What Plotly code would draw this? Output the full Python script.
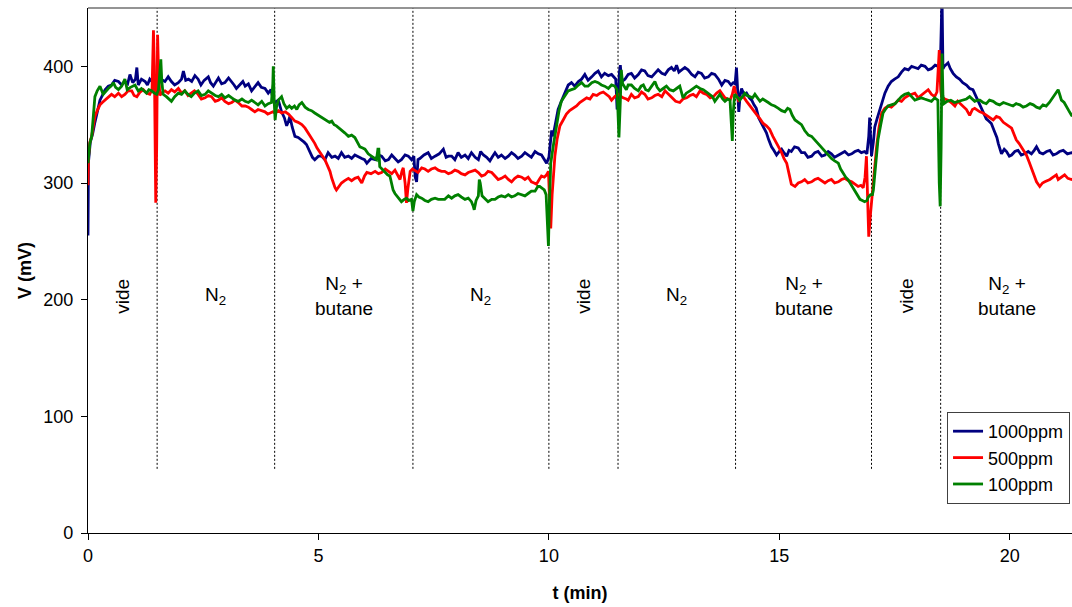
import plotly.graph_objects as go

# ---------------- data ----------------
series_names = ["1000ppm", "500ppm", "100ppm"]
series_colors = ["#000080", "#FF0000", "#008000"]

t_1000 = [0.00, 0.01, 0.05, 0.10, 0.15, 0.19, 0.23, 0.26, 0.31, 0.37,
          0.44, 0.51, 0.58, 0.66, 0.73, 0.80, 0.86, 0.91, 0.97, 1.03,
          1.06, 1.09, 1.16, 1.24, 1.29, 1.34, 1.41, 1.49, 1.53, 1.58,
          1.67, 1.74, 1.81, 1.88, 1.96, 2.03, 2.07, 2.12, 2.18, 2.25,
          2.32, 2.39, 2.45, 2.52, 2.61, 2.66, 2.72, 2.78, 2.83, 2.90,
          2.97, 3.05, 3.12, 3.17, 3.22, 3.30, 3.36, 3.41, 3.48, 3.55,
          3.62, 3.69, 3.76, 3.84, 3.91, 3.97, 4.02, 4.06, 4.13, 4.17,
          4.20, 4.26, 4.31, 4.35, 4.38, 4.43, 4.49, 4.56, 4.64, 4.69,
          4.74, 4.78, 4.82, 4.87, 4.92, 5.00, 5.07, 5.14, 5.21, 5.29,
          5.36, 5.43, 5.50, 5.57, 5.65, 5.72, 5.79, 5.87, 5.94, 6.00,
          6.05, 6.14, 6.23, 6.30, 6.37, 6.45, 6.52, 6.59, 6.66, 6.73,
          6.80, 6.88, 6.95, 7.02, 7.07, 7.10, 7.13, 7.16, 7.20, 7.29,
          7.38, 7.45, 7.53, 7.62, 7.71, 7.77, 7.82, 7.89, 7.96, 8.03,
          8.10, 8.18, 8.25, 8.32, 8.40, 8.47, 8.52, 8.58, 8.65, 8.72,
          8.78, 8.83, 8.90, 8.97, 9.05, 9.12, 9.19, 9.26, 9.33, 9.41,
          9.48, 9.55, 9.62, 9.70, 9.77, 9.84, 9.90, 9.95, 10.00, 10.02,
          10.06, 10.09, 10.14, 10.20, 10.27, 10.35, 10.42, 10.49, 10.56, 10.64,
          10.71, 10.78, 10.85, 10.93, 11.00, 11.07, 11.14, 11.21, 11.29, 11.36,
          11.42, 11.45, 11.48, 11.50, 11.53, 11.55, 11.58, 11.65, 11.72, 11.79,
          11.86, 11.94, 12.01, 12.08, 12.15, 12.23, 12.30, 12.37, 12.45, 12.52,
          12.59, 12.66, 12.72, 12.77, 12.82, 12.88, 12.95, 13.02, 13.10, 13.17,
          13.24, 13.31, 13.38, 13.46, 13.53, 13.60, 13.68, 13.75, 13.82, 13.89,
          13.95, 14.00, 14.04, 14.07, 14.10, 14.12, 14.15, 14.18, 14.24, 14.29,
          14.35, 14.40, 14.45, 14.50, 14.55, 14.61, 14.66, 14.72, 14.77, 14.83,
          14.88, 14.94, 15.00, 15.05, 15.10, 15.16, 15.21, 15.26, 15.33, 15.41,
          15.48, 15.55, 15.62, 15.70, 15.77, 15.84, 15.92, 15.99, 16.06, 16.13,
          16.20, 16.28, 16.35, 16.42, 16.50, 16.57, 16.64, 16.71, 16.78, 16.85,
          16.90, 16.94, 16.96, 16.98, 17.00, 17.04, 17.07, 17.12, 17.18, 17.24,
          17.29, 17.36, 17.43, 17.50, 17.58, 17.65, 17.72, 17.80, 17.87, 17.94,
          18.01, 18.08, 18.16, 18.23, 18.30, 18.38, 18.45, 18.49, 18.51, 18.53,
          18.55, 18.58, 18.66, 18.71, 18.77, 18.84, 18.91, 18.98, 19.06, 19.13,
          19.20, 19.26, 19.31, 19.39, 19.44, 19.49, 19.55, 19.60, 19.67, 19.72,
          19.75, 19.82, 19.88, 19.93, 19.99, 20.04, 20.11, 20.18, 20.25, 20.32,
          20.40, 20.47, 20.53, 20.58, 20.65, 20.72, 20.80, 20.87, 20.94, 21.01,
          21.08, 21.16, 21.25, 21.34, 21.40]
v_1000 = [255, 318, 335, 342, 352, 359, 366, 371, 375, 380,
          383, 384, 388, 387, 384, 387, 385, 393, 386, 389,
          399, 384, 389, 387, 384, 389, 386, 390, 385, 389,
          387, 391, 387, 384, 386, 389, 396, 388, 389, 387,
          392, 389, 384, 388, 391, 386, 383, 387, 390, 385,
          386, 390, 387, 384, 381, 385, 387, 383, 385, 379,
          383, 386, 382, 381, 377, 380, 371, 369, 371, 366,
          361, 356, 349, 353, 357, 348, 340, 339, 337, 335,
          333, 330, 326, 322, 320, 323, 323, 320, 326, 322,
          323, 321, 326, 322, 323, 321, 324, 322, 321, 320,
          317, 321, 320, 324, 323, 319, 320, 324, 321, 318,
          320, 324, 323, 320, 323, 305, 301, 320, 321, 324,
          326, 321, 323, 325, 329, 322, 323, 323, 320, 326,
          322, 324, 321, 326, 322, 320, 327, 324, 322, 319,
          323, 326, 322, 324, 321, 323, 326, 324, 321, 323,
          326, 324, 322, 327, 325, 324, 320, 317, 322, 331,
          345, 340, 352, 363, 370, 377, 384, 386, 383, 387,
          389, 393, 388, 391, 394, 396, 391, 394, 392, 393,
          390, 389, 363, 368, 395, 401, 387, 389, 393, 394,
          390, 393, 397, 396, 392, 391, 394, 397, 394, 393,
          397, 399, 396, 401, 395, 397, 399, 397, 393, 391,
          395, 394, 390, 391, 394, 393, 389, 384, 388, 387,
          384, 386, 385, 399, 380, 361, 375, 381, 375, 377,
          373, 371, 367, 364, 356, 351, 348, 343, 337, 331,
          328, 324, 327, 329, 326, 323, 328, 327, 331, 330,
          326, 326, 322, 323, 326, 327, 323, 324, 327, 325,
          322, 324, 326, 327, 324, 325, 327, 328, 326, 327,
          325, 340, 356, 330, 323, 335, 348, 355, 363, 371,
          377, 383, 387, 389, 391, 395, 398, 397, 400, 399,
          398, 401, 400, 397, 398, 401, 400, 396, 450, 460,
          398, 400, 403, 398, 394, 391, 389, 386, 384, 381,
          380, 375, 371, 363, 359, 355, 353, 351, 344, 339,
          334, 325, 329, 327, 323, 324, 327, 328, 324, 325,
          327, 325, 328, 331, 326, 325, 327, 328, 324, 325,
          327, 328, 325, 326, 325]

t_500 = [0.00, 0.01, 0.04, 0.08, 0.12, 0.15, 0.20, 0.26, 0.31, 0.37,
         0.44, 0.51, 0.58, 0.66, 0.73, 0.80, 0.87, 0.95, 1.00, 1.06,
         1.13, 1.20, 1.27, 1.34, 1.39, 1.42, 1.44, 1.47, 1.49, 1.51,
         1.53, 1.56, 1.62, 1.67, 1.74, 1.81, 1.88, 1.96, 2.03, 2.10,
         2.17, 2.24, 2.31, 2.39, 2.46, 2.54, 2.61, 2.68, 2.76, 2.83,
         2.90, 2.97, 3.05, 3.12, 3.19, 3.26, 3.34, 3.41, 3.48, 3.55,
         3.62, 3.69, 3.77, 3.84, 3.90, 3.95, 4.01, 4.06, 4.13, 4.20,
         4.28, 4.35, 4.42, 4.49, 4.56, 4.64, 4.71, 4.78, 4.85, 4.92,
         4.97, 5.03, 5.09, 5.14, 5.20, 5.25, 5.29, 5.32, 5.36, 5.39,
         5.45, 5.50, 5.57, 5.65, 5.72, 5.79, 5.86, 5.94, 6.00, 6.05,
         6.14, 6.23, 6.30, 6.37, 6.45, 6.52, 6.59, 6.66, 6.72, 6.77,
         6.81, 6.84, 6.88, 6.91, 6.94, 6.99, 7.04, 7.09, 7.16, 7.24,
         7.31, 7.38, 7.45, 7.53, 7.60, 7.67, 7.74, 7.82, 7.89, 7.96,
         8.03, 8.10, 8.18, 8.25, 8.32, 8.40, 8.47, 8.54, 8.61, 8.68,
         8.76, 8.83, 8.90, 8.97, 9.05, 9.12, 9.19, 9.26, 9.33, 9.41,
         9.48, 9.55, 9.62, 9.68, 9.73, 9.79, 9.84, 9.90, 9.95, 9.99,
         10.02, 10.04, 10.07, 10.10, 10.13, 10.18, 10.24, 10.31, 10.38, 10.45,
         10.53, 10.60, 10.67, 10.75, 10.82, 10.89, 10.96, 11.04, 11.11, 11.18,
         11.25, 11.31, 11.36, 11.43, 11.50, 11.56, 11.61, 11.68, 11.72, 11.79,
         11.86, 11.94, 12.01, 12.08, 12.15, 12.23, 12.30, 12.37, 12.45, 12.52,
         12.59, 12.66, 12.75, 12.84, 12.91, 12.99, 13.06, 13.13, 13.20, 13.28,
         13.35, 13.42, 13.50, 13.57, 13.64, 13.71, 13.77, 13.82, 13.88, 13.93,
         13.98, 14.02, 14.06, 14.11, 14.16, 14.22, 14.29, 14.36, 14.43, 14.50,
         14.58, 14.65, 14.72, 14.79, 14.86, 14.94, 15.00, 15.05, 15.10, 15.16,
         15.21, 15.26, 15.30, 15.34, 15.41, 15.48, 15.55, 15.62, 15.70, 15.77,
         15.84, 15.92, 15.99, 16.06, 16.13, 16.20, 16.28, 16.35, 16.42, 16.50,
         16.57, 16.64, 16.71, 16.77, 16.82, 16.86, 16.89, 16.92, 16.94, 16.97,
         17.00, 17.05, 17.11, 17.16, 17.22, 17.29, 17.36, 17.43, 17.51, 17.58,
         17.65, 17.72, 17.80, 17.87, 17.94, 18.01, 18.08, 18.15, 18.23, 18.30,
         18.37, 18.42, 18.45, 18.47, 18.50, 18.52, 18.59, 18.66, 18.73, 18.81,
         18.87, 18.92, 18.99, 19.06, 19.13, 19.19, 19.24, 19.30, 19.35, 19.42,
         19.49, 19.56, 19.64, 19.71, 19.78, 19.86, 19.93, 19.99, 20.04, 20.09,
         20.14, 20.20, 20.25, 20.31, 20.36, 20.42, 20.47, 20.53, 20.58, 20.65,
         20.71, 20.76, 20.82, 20.87, 20.94, 21.01, 21.05, 21.08, 21.14, 21.19,
         21.26, 21.34, 21.40]
v_500 = [298, 322, 335, 340, 350, 357, 362, 367, 369, 371,
         374, 376, 374, 377, 374, 376, 379, 379, 375, 374,
         378, 380, 377, 376, 380, 431, 400, 283, 330, 427,
         395, 375, 378, 379, 377, 380, 378, 381, 377, 379,
         375, 377, 379, 376, 372, 373, 375, 374, 370, 371,
         373, 370, 368, 369, 371, 369, 366, 366, 365, 363,
         361, 363, 362, 361, 359, 360, 361, 360, 362, 360,
         361, 359, 356, 353, 352, 350, 347, 343, 338, 334,
         330, 327, 323, 320, 315, 310, 304, 300, 296, 294,
         297, 300, 302, 304, 302, 304, 305, 300, 306, 309,
         308, 310, 308, 309, 312, 310, 308, 311, 307, 303,
         310, 313, 300, 283, 295, 310, 312, 311, 309, 313,
         312, 310, 312, 313, 311, 310, 310, 308, 309, 311,
         310, 308, 307, 309, 310, 311, 309, 306, 307, 310,
         309, 306, 303, 304, 306, 303, 301, 304, 306, 305,
         303, 305, 301, 300, 299, 303, 306, 305, 307, 310,
         285, 261, 290, 312, 323, 338, 349, 354, 359, 362,
         364, 366, 369, 371, 373, 372, 376, 375, 377, 378,
         376, 374, 371, 374, 376, 374, 373, 372, 371, 376,
         373, 374, 378, 376, 372, 373, 375, 376, 374, 379,
         376, 373, 370, 369, 372, 373, 375, 376, 374, 379,
         377, 376, 373, 374, 377, 379, 376, 373, 372, 371,
         376, 383, 376, 371, 373, 374, 370, 366, 363, 359,
         355, 351, 349, 346, 340, 334, 330, 326, 321, 317,
         308, 299, 298, 297, 300, 301, 303, 300, 301, 303,
         304, 302, 300, 302, 303, 300, 301, 303, 304, 302,
         301, 299, 297, 298, 296, 305, 323, 280, 254, 270,
         286, 305, 331, 347, 360, 364, 366, 365, 368, 371,
         370, 373, 375, 376, 377, 373, 375, 377, 380, 376,
         374, 378, 400, 414, 380, 374, 372, 371, 369, 366,
         370, 368, 366, 363, 358, 363, 364, 362, 361, 360,
         358, 356, 354, 357, 356, 352, 350, 348, 347, 342,
         337, 334, 331, 327, 324, 318, 313, 306, 301, 297,
         300, 301, 302, 303, 305, 307, 303, 304, 306, 307,
         304, 303, 304]

t_100 = [0.00, 0.04, 0.08, 0.12, 0.15, 0.20, 0.26, 0.33, 0.39, 0.44,
         0.50, 0.55, 0.60, 0.66, 0.73, 0.80, 0.85, 0.92, 1.02, 1.09,
         1.16, 1.22, 1.27, 1.32, 1.38, 1.44, 1.49, 1.53, 1.56, 1.58,
         1.60, 1.63, 1.70, 1.76, 1.81, 1.88, 1.96, 2.03, 2.10, 2.17,
         2.24, 2.31, 2.39, 2.46, 2.54, 2.61, 2.68, 2.76, 2.83, 2.90,
         2.97, 3.05, 3.12, 3.19, 3.26, 3.34, 3.41, 3.48, 3.55, 3.62,
         3.69, 3.77, 3.84, 3.91, 3.98, 4.01, 4.02, 4.04, 4.06, 4.09,
         4.13, 4.20, 4.25, 4.31, 4.37, 4.42, 4.48, 4.53, 4.58, 4.64,
         4.71, 4.78, 4.85, 4.92, 5.00, 5.07, 5.12, 5.18, 5.24, 5.29,
         5.34, 5.39, 5.45, 5.50, 5.57, 5.65, 5.72, 5.79, 5.85, 5.90,
         5.96, 6.01, 6.08, 6.15, 6.20, 6.26, 6.29, 6.31, 6.33, 6.38,
         6.44, 6.50, 6.55, 6.59, 6.62, 6.66, 6.70, 6.75, 6.80, 6.86,
         6.91, 6.96, 7.02, 7.05, 7.08, 7.13, 7.18, 7.24, 7.31, 7.38,
         7.45, 7.53, 7.60, 7.67, 7.74, 7.82, 7.89, 7.96, 8.03, 8.10,
         8.18, 8.25, 8.32, 8.36, 8.38, 8.42, 8.47, 8.49, 8.51, 8.55,
         8.61, 8.68, 8.76, 8.83, 8.90, 8.97, 9.05, 9.12, 9.19, 9.26,
         9.33, 9.41, 9.48, 9.55, 9.62, 9.70, 9.76, 9.80, 9.86, 9.90,
         9.94, 9.97, 9.99, 10.01, 10.04, 10.10, 10.17, 10.22, 10.27, 10.35,
         10.42, 10.49, 10.56, 10.64, 10.71, 10.78, 10.85, 10.93, 11.00, 11.07,
         11.14, 11.21, 11.29, 11.36, 11.43, 11.48, 11.50, 11.52, 11.55, 11.57,
         11.60, 11.68, 11.72, 11.79, 11.86, 11.94, 12.00, 12.05, 12.10, 12.16,
         12.23, 12.30, 12.35, 12.41, 12.48, 12.55, 12.62, 12.70, 12.77, 12.84,
         12.91, 12.98, 13.06, 13.13, 13.20, 13.28, 13.35, 13.42, 13.49, 13.55,
         13.60, 13.66, 13.71, 13.77, 13.82, 13.88, 13.93, 13.96, 13.98, 14.00,
         14.03, 14.08, 14.14, 14.20, 14.25, 14.30, 14.36, 14.42, 14.47, 14.53,
         14.58, 14.64, 14.69, 14.76, 14.83, 14.90, 14.98, 15.05, 15.12, 15.18,
         15.23, 15.28, 15.34, 15.41, 15.48, 15.55, 15.63, 15.70, 15.77, 15.84,
         15.92, 15.99, 16.06, 16.13, 16.20, 16.28, 16.33, 16.39, 16.44, 16.49,
         16.57, 16.64, 16.70, 16.75, 16.80, 16.85, 16.90, 16.93, 16.98, 17.02,
         17.04, 17.09, 17.14, 17.20, 17.25, 17.30, 17.36, 17.43, 17.51, 17.58,
         17.65, 17.72, 17.80, 17.87, 17.94, 18.01, 18.08, 18.15, 18.23, 18.30,
         18.37, 18.44, 18.47, 18.49, 18.51, 18.53, 18.55, 18.57, 18.64, 18.72,
         18.80, 18.88, 18.92, 18.99, 19.06, 19.13, 19.19, 19.24, 19.30, 19.35,
         19.42, 19.49, 19.56, 19.64, 19.71, 19.78, 19.86, 19.93, 20.00, 20.07,
         20.14, 20.22, 20.29, 20.36, 20.44, 20.51, 20.58, 20.65, 20.72, 20.79,
         20.86, 20.94, 21.00, 21.05, 21.09, 21.12, 21.18, 21.23, 21.28, 21.34,
         21.40]
v_100 = [317, 334, 340, 360, 374, 379, 383, 376, 379, 381,
         383, 386, 382, 380, 383, 389, 380, 382, 384, 379,
         381, 379, 377, 380, 379, 377, 376, 380, 395, 406,
         388, 376, 374, 372, 370, 374, 377, 376, 379, 376,
         374, 377, 379, 375, 376, 379, 377, 375, 374, 376,
         373, 375, 373, 371, 370, 372, 370, 369, 371, 369,
         367, 370, 366, 368, 369, 385, 400, 370, 354, 365,
         371, 374, 368, 364, 366, 364, 366, 363, 367, 369,
         365, 363, 362, 360, 358, 357, 355, 354, 352, 353,
         350, 349, 347, 346, 343, 340, 341, 339, 335, 331,
         330, 329, 325, 323, 322, 320, 329, 329, 314, 312,
         309, 307, 306, 300, 294, 291, 289, 286, 284, 286,
         287, 285, 286, 276, 284, 290, 288, 287, 285, 284,
         286, 287, 286, 286, 286, 289, 287, 289, 290, 288,
         286, 287, 284, 280, 277, 285, 289, 303, 300, 289,
         287, 284, 286, 286, 288, 289, 288, 290, 288, 289,
         291, 290, 289, 291, 293, 293, 297, 297, 295, 294,
         290, 260, 246, 280, 317, 333, 351, 362, 370, 375,
         379, 380, 381, 384, 386, 383, 383, 386, 387, 386,
         384, 383, 381, 384, 383, 380, 360, 339, 370, 397,
         385, 380, 384, 384, 381, 379, 383, 384, 380, 379,
         383, 387, 382, 379, 381, 383, 380, 379, 381, 383,
         373, 377, 379, 381, 383, 381, 380, 378, 376, 374,
         370, 373, 376, 372, 370, 372, 371, 350, 336, 360,
         376, 374, 371, 374, 377, 375, 374, 373, 376, 373,
         370, 372, 371, 369, 367, 366, 364, 362, 361, 364,
         363, 358, 354, 352, 350, 345, 341, 340, 337, 334,
         330, 327, 324, 321, 319, 317, 312, 308, 305, 303,
         298, 294, 290, 286, 285, 284, 285, 288, 290, 290,
         294, 318, 337, 350, 360, 363, 366, 367, 368, 371,
         374, 376, 377, 374, 371, 372, 373, 372, 371, 370,
         373, 371, 300, 280, 330, 411, 375, 368, 370, 371,
         369, 370, 370, 371, 372, 374, 372, 370, 371, 371,
         369, 368, 371, 370, 368, 367, 369, 368, 367, 366,
         368, 367, 365, 366, 368, 367, 365, 364, 367, 366,
         369, 374, 378, 380, 375, 371, 369, 366, 362, 358,
         357]

# phase changes (min) and phase names
phase_changes = [1.5, 4.05, 7.05, 10.0, 11.5, 14.05, 17.0, 18.5]
phase_names = ["vide", "N<sub>2</sub>", "N<sub>2</sub> +<br>butane", "N<sub>2</sub>",
               "vide", "N<sub>2</sub>", "N<sub>2</sub> +<br>butane", "vide",
               "N<sub>2</sub> +<br>butane"]

x_ticks = [0, 5, 10, 15, 20]
y_ticks = [0, 100, 200, 300, 400]

assert len(t_1000) == len(v_1000), (len(t_1000), len(v_1000))
assert len(t_500) == len(v_500), (len(t_500), len(v_500))
assert len(t_100) == len(v_100), (len(t_100), len(v_100))

# ---------------- figure ----------------
FONT = "Liberation Sans, Arial, sans-serif"
X_MAX = 21.35
Y_MAX = 450
MARKER_BOTTOM = 55
LABEL_Y = 203

fig = go.Figure()
for name, color, t, v in zip(series_names, series_colors,
                             [t_1000, t_500, t_100], [v_1000, v_500, v_100]):
    fig.add_trace(go.Scatter(x=t, y=v, mode="lines", name=name,
                             line=dict(color=color, width=2.8)))

shapes = []
for e in phase_changes:
    shapes.append(dict(type="line", xref="x", yref="y", x0=e, x1=e,
                       y0=MARKER_BOTTOM, y1=Y_MAX, layer="below",
                       line=dict(color="#000000", width=1, dash="2px,2px")))
# top frame line
shapes.append(dict(type="line", xref="paper", yref="paper", x0=0, x1=1,
                   y0=1, y1=1, line=dict(color="#707070", width=1.5)))

bounds = [0] + phase_changes + [X_MAX + 0.05]
annotations = []
for i, name in enumerate(phase_names):
    xm = (bounds[i] + bounds[i + 1]) / 2
    annotations.append(dict(x=xm, y=LABEL_Y, xref="x", yref="y", text=name,
                            showarrow=False, textangle=-90 if name == "vide" else 0,
                            font=dict(family=FONT, size=19, color="#000000"),
                            xanchor="center", yanchor="middle"))

fig.update_layout(
    width=1072, height=607,
    margin=dict(l=88, r=0, t=8, b=74),
    paper_bgcolor="white", plot_bgcolor="white",
    font=dict(family=FONT, size=18, color="#000000"),
    shapes=shapes, annotations=annotations,
    showlegend=True,
    legend=dict(x=0.873, y=0.2305, xanchor="left", yanchor="top",
                bgcolor="white", bordercolor="#404040", borderwidth=1,
                font=dict(family=FONT, size=18, color="#000000"),
                tracegroupgap=0, itemwidth=30),
    xaxis=dict(range=[0, X_MAX], tickvals=x_ticks, ticks="outside", ticklen=6,
               tickcolor="#000000", showline=True, linecolor="#000000", linewidth=1.2,
               showgrid=False, zeroline=False,
               tickfont=dict(family=FONT, size=18, color="#000000"),
               title=dict(text="<b>t (min)</b>", standoff=21,
                          font=dict(family=FONT, size=18, color="#000000"))),
    yaxis=dict(range=[0, Y_MAX], tickvals=y_ticks, ticks="outside", ticklen=6,
               tickcolor="#000000", showline=True, linecolor="#000000", linewidth=1.2,
               showgrid=False, zeroline=False, ticklabelstandoff=4,
               tickfont=dict(family=FONT, size=18, color="#000000"),
               title=dict(text="<b>V (mV)</b>", standoff=6,
                          font=dict(family=FONT, size=18, color="#000000"))),
)

# remove the default page margin so the 1072x607 figure fills the window exactly
fig.write_html("out.html", config={"displayModeBar": False},
               post_script="document.body.style.margin='0';"
                           "document.body.style.overflow='hidden';")
